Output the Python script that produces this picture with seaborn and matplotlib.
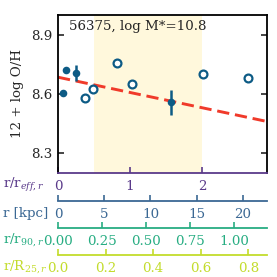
import numpy as np
import pandas as pd
import matplotlib
matplotlib.use("Agg")
import matplotlib.pyplot as plt
import seaborn as sns

# radial metallicity profile, radius in units of r_eff
filled_r = [0.065, 0.11, 0.25, 1.565]
filled_oh = [8.605, 8.72, 8.708, 8.558]
filled_err = [0.012, 0.0, 0.04, 0.062]
open_r = [0.375, 0.48, 0.815, 1.02, 2.01, 2.63]
open_oh = [8.578, 8.624, 8.757, 8.652, 8.703, 8.683]

fit_intercept = 8.685
fit_slope = -0.0773
fit_r = [0.0, 2.9]

# conversions from r_eff to the other radial scales
kpc_per_reff = 7.8
r90_per_reff = 0.409
r25_per_reff = 0.303

shade_range = (0.5, 2.0)
title_txt = "56375, log M*=10.8"

sns.set_style("ticks")
plt.rcParams["font.family"] = ["DejaVu Serif"]
plt.rcParams["mathtext.fontset"] = "dejavuserif"
plt.rcParams["font.size"] = 9.6

c_pt = "#0d5b85"
c_eff = "#5a3a8a"
c_kpc = "#3b6894"
c_90 = "#27ad82"
c_25 = "#c3dc2c"

fig = plt.figure(figsize=(2.77, 2.77), dpi=100)
ax = fig.add_axes([58 / 277, 1 - 173 / 277, 209 / 277, 158 / 277])

ax.axvspan(*shade_range, color="#fff8dc", zorder=0, lw=0)

fit_df = pd.DataFrame({"r": fit_r})
fit_df["oh"] = fit_intercept + fit_slope * fit_df["r"]
sns.lineplot(data=fit_df, x="r", y="oh", ax=ax, color="#f03a2a", lw=2.1, zorder=2)
ax.lines[-1].set_dashes((4.2, 2.0))

open_df = pd.DataFrame({"r": open_r, "oh": open_oh})
sns.scatterplot(data=open_df, x="r", y="oh", ax=ax, marker="o", s=32,
                facecolor="white", edgecolor=c_pt, linewidth=1.6, zorder=3)

fill_df = pd.DataFrame({"r": filled_r, "oh": filled_oh, "err": filled_err})
ax.errorbar(fill_df["r"], fill_df["oh"], yerr=fill_df["err"], fmt="none",
            ecolor=c_pt, elinewidth=1.8, zorder=3)
sns.scatterplot(data=fill_df, x="r", y="oh", ax=ax, marker="o", s=30,
                color=c_pt, edgecolor=c_pt, linewidth=0, zorder=4)

ax.set_xlim(0, 2.9)
ax.set_ylim(8.2, 9.0)
ax.set_yticks([8.3, 8.6, 8.9])
ax.set_xticks([0, 1, 2])
ax.set_xlabel("")
ax.set_ylabel("12 + log O/H", labelpad=5)
ax.tick_params(axis="y", direction="in", right=True, length=4, width=1.2, pad=4)
ax.tick_params(axis="x", direction="in", colors=c_eff, length=4, width=1.2, pad=5)
for s in ["left", "right", "top"]:
    ax.spines[s].set_linewidth(1.3)
    ax.spines[s].set_color("black")
ax.spines["bottom"].set_color(c_eff)
ax.spines["bottom"].set_linewidth(1.3)

ax.text(0.053, 0.925, title_txt, transform=ax.transAxes, ha="left", va="center")

scales = [
    (-0.177, kpc_per_reff, [0, 5, 10, 15, 20], "{:.0f}", c_kpc),
    (-0.348, r90_per_reff, [0, 0.25, 0.5, 0.75, 1.0], "{:.2f}", c_90),
    (-0.519, r25_per_reff, [0, 0.2, 0.4, 0.6, 0.8], "{:.1f}", c_25),
]
for loc, f, ticks, fmt, col in scales:
    sec = ax.secondary_xaxis(loc, functions=(lambda x, f=f: x * f,
                                              lambda x, f=f: x / f))
    sec.set_xticks(ticks)
    sec.set_xticklabels([fmt.format(t) for t in ticks])
    sec.tick_params(direction="in", colors=col, length=4, width=1.2, pad=5)
    sec.spines["bottom"].set_color(col)
    sec.spines["bottom"].set_linewidth(1.3)

labels = [
    (185, r"r/r$_{eff,r}$", c_eff),
    (213, "r [kpc]", c_kpc),
    (240, r"r/r$_{90,r}$", c_90),
    (267, r"r/R$_{25,r}$", c_25),
]
for y, txt, col in labels:
    fig.text(3 / 277, 1 - y / 277, txt, color=col, ha="left", va="center")

fig.savefig("out.png", dpi=100)
